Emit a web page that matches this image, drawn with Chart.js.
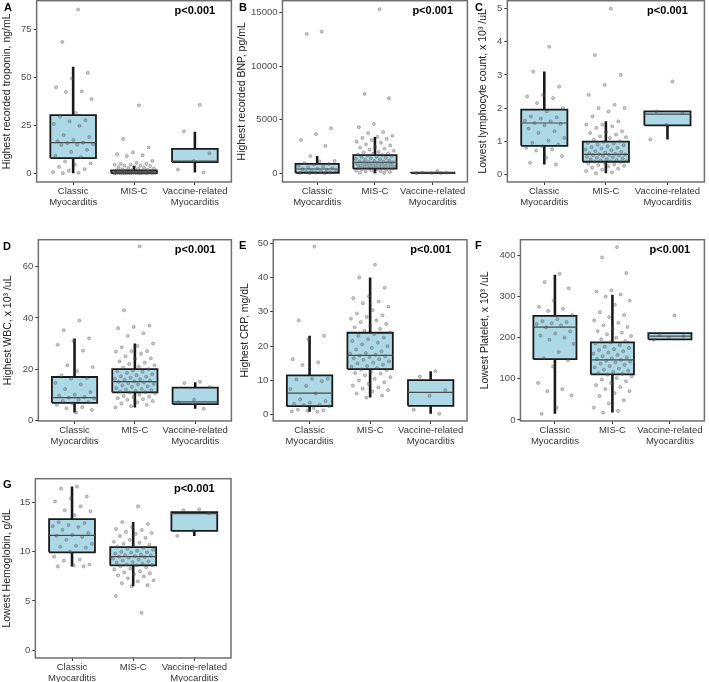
<!DOCTYPE html>
<html>
<head>
<meta charset="utf-8">
<script src="https://cdn.jsdelivr.net/npm/chart.js@4.4.1/dist/chart.umd.min.js"></script>
<style>
  html, body { margin: 0; padding: 0; background: #fff; }
  body { width: 709px; height: 682px; position: relative; overflow: hidden; }
  .panel { position: absolute; }
  .tag { position: absolute; font: bold 11px Arial, "Liberation Sans", sans-serif; line-height: 11px; color: #000; }
</style>
</head>
<body>
<div class="panel" style="left:0;top:-7px;width:236px;height:217px"><canvas id="cA"></canvas></div>
<div class="panel" style="left:236px;top:-7px;width:236px;height:217px"><canvas id="cB"></canvas></div>
<div class="panel" style="left:472px;top:-7px;width:237px;height:217px"><canvas id="cC"></canvas></div>
<div class="panel" style="left:0;top:232px;width:236px;height:217px"><canvas id="cD"></canvas></div>
<div class="panel" style="left:236px;top:232px;width:236px;height:217px"><canvas id="cE"></canvas></div>
<div class="panel" style="left:472px;top:232px;width:237px;height:217px"><canvas id="cF"></canvas></div>
<div class="panel" style="left:0;top:471px;width:236px;height:215px"><canvas id="cG"></canvas></div>

<div class="tag" style="left:4px;top:2px">A</div>
<div class="tag" style="left:239px;top:2px">B</div>
<div class="tag" style="left:475px;top:2px">C</div>
<div class="tag" style="left:3px;top:241px">D</div>
<div class="tag" style="left:239px;top:240px">E</div>
<div class="tag" style="left:475px;top:240px">F</div>
<div class="tag" style="left:3px;top:479px">G</div>

<script>
// categories shared by every panel
const categories = [["Classic", "Myocarditis"], ["MIS-C"], ["Vaccine-related", "Myocarditis"]];
const pValue = "p<0.001";

// A - troponin
const troponinTicks = [0, 25, 50, 75];
const troponinClassic = [85.6, 68.7, 52.5, 49.5, 45, 42.8, 42.5, 38.8, 31.5, 29.6, 27.8, 27.2, 25.8, 24.8, 20, 19, 17.5, 16.8, 16, 15.8, 15.3, 15, 14.8, 12.3, 11.2, 9.2, 8.5, 6.2, 5.2, 4.6, 3.4, 2.2, 1.4, 0.6, 0.3, 0.1];
const troponinMisc = [35.5, 18, 13.5, 11, 10, 9.5, 9, 6.5, 5.5, 5, 5, 4.5, 4.5, 4, 4, 3.8, 3.5, 3.2, 3, 2.8, 2.5, 2.3, 2.1, 1.9, 1.7, 1.6, 1.5, 1.4, 1.3, 1.2, 1.1, 1.0, 1.0, 0.9, 0.9, 0.8, 0.8, 0.7, 0.7, 0.6, 0.6, 0.6, 0.5, 0.5, 0.5, 0.5, 0.4, 0.4, 0.4, 0.3, 0.3, 0.3, 0.3, 0.2, 0.2, 0.2, 0.2, 0.1, 0.1, 0.1, 0.1, 0.1, 0.05, 0.05, 0.05, 0.02, 0.02, 0.01, 0.01, 0];
const troponinVaccine = [35.8, 22, 10.5, 6.4, 2, 0.5];
// [lower whisker, q1, median, q3, upper whisker]
const troponinBox = [[0.1, 8.0, 16.0, 30.4, 55.7], [0, 0.1, 0.5, 1.6, 3.8], [0.5, 5.9, 6.4, 12.8, 21.7]];

// B - BNP
const bnpTicks = [0, 5000, 10000, 15000];
const bnpClassic = [13200, 13000, 4200, 3650, 3100, 2550, 1600, 1150, 1100, 950, 880, 820, 700, 620, 540, 480, 420, 380, 320, 260, 210, 170, 120, 90, 60, 40, 20, 10];
const bnpMisc = [15300, 7400, 7000, 4600, 4300, 3850, 3750, 3500, 3400, 3300, 3200, 3100, 2950, 2850, 2700, 2600, 2450, 2400, 2300, 2200, 2100, 2000, 1950, 1850, 1800, 1750, 1700, 1650, 1600, 1550, 1500, 1450, 1400, 1350, 1300, 1250, 1200, 1150, 1100, 1080, 1050, 1030, 1000, 980, 950, 900, 870, 850, 820, 800, 760, 720, 700, 680, 650, 620, 600, 560, 530, 500, 470, 450, 430, 400, 360, 320, 280, 240, 200, 160, 120, 80, 50, 30];
const bnpVaccine = [210, 60, 40, 20, 10, 5];
const bnpBox = [[10, 50, 400, 880, 1600], [30, 430, 1030, 1690, 3380], [5, 10, 30, 60, 80]];

// C - lymphocytes
const lymphTicks = [0, 1, 2, 3, 4, 5];
const lymphClassic = [3.85, 3.1, 2.65, 2.4, 2.35, 2.3, 2.15, 2.0, 1.9, 1.75, 1.72, 1.68, 1.62, 1.6, 1.55, 1.52, 1.48, 1.38, 1.3, 1.25, 1.1, 1.02, 0.95, 0.9, 0.85, 0.8, 0.76, 0.72, 0.55, 0.5, 0.35, 0.3];
const lymphMisc = [5.0, 3.6, 3.0, 2.7, 2.4, 2.1, 2.0, 2.0, 1.9, 1.75, 1.6, 1.5, 1.5, 1.45, 1.4, 1.3, 1.28, 1.25, 1.2, 1.15, 1.12, 1.1, 1.05, 1.0, 0.98, 0.95, 0.93, 0.9, 0.88, 0.85, 0.82, 0.8, 0.78, 0.75, 0.73, 0.7, 0.68, 0.66, 0.64, 0.62, 0.61, 0.6, 0.59, 0.58, 0.57, 0.55, 0.53, 0.52, 0.5, 0.48, 0.46, 0.45, 0.43, 0.42, 0.4, 0.39, 0.38, 0.37, 0.35, 0.33, 0.3, 0.28, 0.26, 0.24, 0.2, 0.17, 0.14, 0.1, 0.06, 0.03];
const lymphVaccine = [2.8, 1.9, 1.85, 1.5, 1.05];
const lymphBox = [[0.3, 0.86, 1.55, 1.95, 3.1], [0.03, 0.38, 0.6, 0.99, 1.6], [1.05, 1.48, 1.82, 1.9, 1.9]];

// D - WBC
const wbcTicks = [0, 20, 40, 60];
const wbcClassic = [39, 35.2, 32, 31, 29.5, 27.2, 21.5, 20.8, 19.2, 17.5, 16.5, 16.2, 14.6, 14, 12.2, 11, 10, 9.6, 9.1, 8.8, 8.5, 8, 7.5, 7.1, 6.6, 6, 5.1, 4.6, 4, 3];
const wbcMisc = [68, 43, 37, 36.5, 36, 34, 33, 30, 29, 28.5, 27, 27, 26.8, 26, 25, 24.2, 24, 23, 22.5, 22, 21.5, 21, 20.5, 20, 19.5, 19.2, 19, 18.5, 18, 17.6, 17.2, 17, 16.6, 16.2, 16, 15.8, 15.5, 15.2, 15, 14.8, 14.5, 14.2, 14, 13.6, 13.2, 13, 12.6, 12.2, 12, 11.8, 11.5, 11.2, 11, 10.8, 10.5, 10, 9.5, 9.2, 9, 8.6, 8.2, 8, 7.5, 7, 6.5, 6, 5.5, 5];
const wbcVaccine = [15, 14.5, 13, 8, 7, 4.5];
const wbcBox = [[3, 6.8, 8.8, 16.9, 32], [5, 10.9, 15.1, 20, 30], [4.5, 6.3, 7.2, 12.7, 14.8]];

// E - CRP
const crpTicks = [0, 10, 20, 30, 40, 50];
const crpClassic = [49, 27.5, 23, 22, 16.2, 15.3, 14.5, 10.5, 10.5, 10.3, 9.8, 8.4, 7.5, 6.2, 4.5, 4.0, 3.5, 3.2, 3.0, 2.8, 2.5, 2.0, 1.5, 1.3, 1.2, 1.0, 0.9];
const crpMisc = [43.7, 40, 37, 34.5, 34, 33, 32.5, 31.5, 30.5, 29.5, 29, 28.5, 28, 27.5, 27, 26.5, 26, 25.5, 25, 24.5, 24, 23.5, 23, 22.5, 22, 21.5, 21, 20.5, 20, 19.5, 19, 18.5, 18, 17.8, 17.5, 17.2, 17, 16.8, 16.5, 16.2, 16, 15.6, 15.2, 15, 14.6, 14.2, 14, 13.6, 13.2, 13, 12.6, 12.2, 12, 11.5, 11, 10.5, 10, 9.5, 9, 8.5, 8, 7.6, 7.2, 6.8, 6.2, 5.6, 5];
const crpVaccine = [12.7, 11.1, 7.2, 5.5, 1.5, 0.3];
const crpBox = [[0.9, 2.5, 6.3, 11.5, 23], [5, 13.3, 17.3, 23.9, 40], [0.3, 2.6, 6.5, 10.1, 12.7]];

// F - platelets
const pltTicks = [0, 100, 200, 300, 400];
const pltClassic = [355, 335, 320, 290, 275, 270, 265, 255, 245, 240, 238, 235, 233, 230, 225, 215, 210, 205, 200, 195, 185, 165, 150, 145, 130, 90, 75, 70, 60, 30, 15];
const pltMisc = [420, 395, 357, 315, 312, 305, 300, 290, 280, 262, 255, 250, 242, 236, 230, 226, 222, 216, 212, 208, 204, 200, 196, 192, 189, 186, 182, 178, 175, 172, 170, 167, 164, 161, 158, 155, 152, 150, 148, 146, 144, 142, 140, 137, 134, 131, 128, 125, 122, 120, 117, 114, 112, 110, 106, 102, 98, 94, 90, 85, 80, 75, 70, 65, 58, 48, 40, 30, 22, 18];
const pltVaccine = [254, 207, 204, 200, 195];
const pltBox = [[15, 147.6, 225.8, 252.7, 353], [18, 110.9, 146, 188.3, 304], [195, 196, 203.7, 211, 211]];

// G - hemoglobin
const hgbTicks = [0, 5, 10, 15];
const hgbClassic = [16.6, 16.4, 15.6, 15.4, 15.1, 14.6, 14.2, 14.1, 13.7, 13.0, 12.9, 12.7, 12.6, 12.5, 12.2, 11.9, 11.7, 11.6, 11.5, 11.2, 10.8, 10.6, 10.5, 10.4, 10.0, 9.5, 9.2, 9.1, 8.7, 8.6, 8.5, 8.5];
const hgbMisc = [14.6, 13.0, 12.8, 12.5, 12.3, 12.2, 12.0, 11.9, 11.8, 11.6, 11.4, 11.2, 11.0, 10.9, 10.8, 10.7, 10.6, 10.5, 10.4, 10.3, 10.2, 10.1, 10.0, 9.95, 9.9, 9.8, 9.7, 9.65, 9.6, 9.55, 9.5, 9.45, 9.4, 9.3, 9.2, 9.1, 9.0, 8.95, 8.9, 8.8, 8.7, 8.65, 8.6, 8.5, 8.4, 8.3, 8.2, 8.0, 7.9, 7.8, 7.7, 7.6, 7.5, 7.3, 7.1, 7.0, 6.8, 6.6, 6.5, 5.5, 3.8];
const hgbVaccine = [14.3, 14.2, 13.9, 12.1, 11.6];
const hgbBox = [[8.5, 9.93, 11.65, 13.3, 16.6], [6.5, 8.6, 9.5, 10.47, 13.0], [11.6, 12.1, 13.85, 14.0, 14.0]];

const SANS = "Arial, 'Liberation Sans', sans-serif";
const BOX_HALF = 0.375;

// padL / titleGap / padR tune each panel's plot frame to the figure grid
const panels = [
  { id: "cA", title: "Highest recorded troponin, ng/mL", yMin: -4.5, yMax: 90.2, ticks: troponinTicks, groups: [troponinClassic, troponinMisc, troponinVaccine], box: troponinBox, padL: 1, titleGap: 5, padR: 4 },
  { id: "cB", title: "Highest recorded BNP, pg/mL", yMin: -810, yMax: 16090, ticks: bnpTicks, groups: [bnpClassic, bnpMisc, bnpVaccine], box: bnpBox, padL: 0, titleGap: 0, padR: 4 },
  { id: "cC", title: "Lowest lymphocyte count, x 10\u00B3 /uL", yMin: -0.23, yMax: 5.24, ticks: lymphTicks, groups: [lymphClassic, lymphMisc, lymphVaccine], box: lymphBox, padL: 5, titleGap: 5, padR: 1 },
  { id: "cD", title: "Highest WBC, x 10\u00B3 /uL", yMin: -0.3, yMax: 70.6, ticks: wbcTicks, groups: [wbcClassic, wbcMisc, wbcVaccine], box: wbcBox, padL: 2, titleGap: 5.7, padR: 4 },
  { id: "cE", title: "Highest CRP, mg/dL", yMin: -1.8, yMax: 51, ticks: crpTicks, groups: [crpClassic, crpMisc, crpVaccine], box: crpBox, padL: 2.6, titleGap: 4, padR: 5 },
  { id: "cF", title: "Lowest Platelet, x 10\u00B3 /uL", yMin: -2.4, yMax: 438, ticks: pltTicks, groups: [pltClassic, pltMisc, pltVaccine], box: pltBox, padL: 7.5, titleGap: 5, padR: 4 },
  { id: "cG", title: "Lowest Hemoglobin, g/dL", yMin: -0.78, yMax: 17.4, ticks: hgbTicks, groups: [hgbClassic, hgbMisc, hgbVaccine], box: hgbBox, padL: 1, titleGap: 3.7, padR: 5 }
];

// spread points sideways like geom_jitter (fixed sequence, no randomness)
function jitter(i) {
  return (((i + 1) * 0.6180339887) % 1 - 0.5) * 0.68;
}

// grey panel border drawn around the plot area
const framePlugin = {
  id: "frame",
  afterDatasetsDraw(chart) {
    const { ctx, chartArea: a } = chart;
    ctx.save();
    ctx.strokeStyle = "#707070";
    ctx.lineWidth = 1.5;
    ctx.strokeRect(a.left, a.top, a.width, a.height);
    ctx.restore();
  }
};

// p-value annotation, centred above the third group
const pLabelPlugin = {
  id: "plabel",
  afterDraw(chart) {
    const { ctx, chartArea: a, scales } = chart;
    ctx.save();
    ctx.font = "bold 11px " + SANS;
    ctx.fillStyle = "#000";
    ctx.textAlign = "center";
    ctx.textBaseline = "middle";
    ctx.fillText(pValue, scales.x.getPixelForValue(3), a.top + 10);
    ctx.restore();
  }
};

function buildDatasets(p) {
  const points = [];
  p.groups.forEach((vals, g) => {
    vals.forEach((v, i) => points.push({ x: g + 1 + jitter(i), y: v }));
  });
  const whiskers = [];
  const medians = [];
  const boxes = [];
  p.box.forEach((b, g) => {
    const c = g + 1;
    whiskers.push({ x: c, y: b[0] }, { x: c, y: b[1] }, { x: c, y: null },
                  { x: c, y: b[3] }, { x: c, y: b[4] }, { x: c, y: null });
    medians.push({ x: c - BOX_HALF, y: b[2] }, { x: c + BOX_HALF, y: b[2] }, { x: c, y: null });
    boxes.push({
      data: [
        { x: c - BOX_HALF, y: b[1] }, { x: c - BOX_HALF, y: b[3] },
        { x: c + BOX_HALF, y: b[3] }, { x: c + BOX_HALF, y: b[1] },
        { x: c - BOX_HALF, y: b[1] }
      ],
      showLine: true,
      fill: "shape",
      backgroundColor: "#add8e6",
      borderColor: "#1a1a1a",
      borderWidth: 1.8,
      pointRadius: 0,
      tension: 0
    });
  });
  return [
    {
      data: points,
      pointRadius: 1.6,
      backgroundColor: "rgba(95,95,95,0.35)",
      borderColor: "rgba(60,60,60,0.45)",
      borderWidth: 0.6
    },
    { data: medians, showLine: true, borderColor: "#4a4a4a", borderWidth: 1.2, pointRadius: 0 },
    { data: whiskers, showLine: true, borderColor: "#1a1a1a", borderWidth: 2.6, pointRadius: 0, borderCapStyle: "butt" },
    ...boxes
  ];
}

panels.forEach((p) => {
  new Chart(document.getElementById(p.id), {
    type: "scatter",
    data: { datasets: buildDatasets(p) },
    options: {
      responsive: true,
      maintainAspectRatio: false,
      animation: false,
      layout: { padding: { top: 1, right: p.padR, bottom: 1, left: p.padL } },
      plugins: { legend: { display: false }, tooltip: { enabled: false } },
      scales: {
        x: {
          type: "linear",
          min: 0.4,
          max: 3.6,
          afterBuildTicks: (s) => { s.ticks = [1, 2, 3].map((v) => ({ value: v })); },
          ticks: {
            callback: (v) => categories[v - 1],
            font: { family: SANS, size: 9.5, lineHeight: 1.16 },
            color: "#333",
            padding: 1,
            autoSkip: false,
            maxRotation: 0
          },
          grid: { drawOnChartArea: false, tickLength: 3, color: "#333" },
          border: { display: false }
        },
        y: {
          min: p.yMin,
          max: p.yMax,
          afterBuildTicks: (s) => { s.ticks = p.ticks.map((v) => ({ value: v })); },
          title: {
            display: true,
            text: p.title,
            font: { family: SANS, size: 10.5, lineHeight: 1.15 },
            color: "#222",
            padding: { top: 0, bottom: 1 + p.titleGap }
          },
          ticks: {
            callback: (v) => String(v),
            font: { family: SANS, size: 9.5 },
            color: "#4d4d4d",
            padding: 2
          },
          grid: { drawOnChartArea: false, tickLength: 3, color: "#333" },
          border: { display: false }
        }
      }
    },
    plugins: [framePlugin, pLabelPlugin]
  });
});
</script>
</body>
</html>
